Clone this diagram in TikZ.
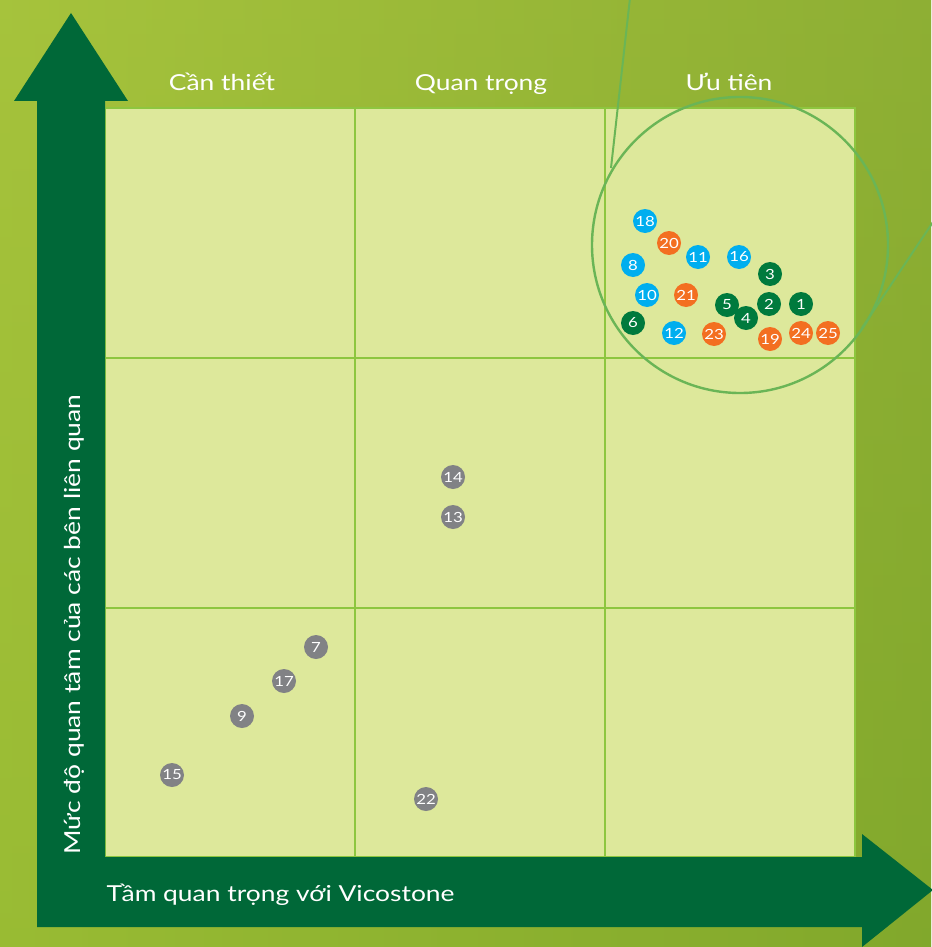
\documentclass[tikz,border=0pt]{standalone}
\usepackage{fontspec}
\setmainfont{Lato}[FakeStretch=1.2]
\usetikzlibrary{calc}
\definecolor{bgA}{HTML}{A6C33C}
\definecolor{bgB}{HTML}{769B2C}
\definecolor{bgC}{HTML}{8DB52C}
\definecolor{cellfill}{HTML}{DDE89B}
\definecolor{gridline}{HTML}{8DC63F}
\definecolor{arrowgreen}{HTML}{006838}
\definecolor{ringgreen}{HTML}{6AB556}
\definecolor{cblue}{HTML}{00AEEF}
\definecolor{corange}{HTML}{F36F21}
\definecolor{cdgreen}{HTML}{007A3D}
\definecolor{cgray}{HTML}{818285}
\tikzset{
  bub/.style={circle,minimum size=24pt,inner sep=0pt,text=white,font=\fontsize{14}{15}\selectfont},
  bblue/.style={bub,fill=cblue},
  borange/.style={bub,fill=corange},
  bdg/.style={bub,fill=cdgreen},
  bgray/.style={bub,fill=cgray},
  collabel/.style={text=white,anchor=base,font=\fontsize{22}{24}\selectfont},
  axislabel/.style={text=white,anchor=base west,font=\fontsize{22}{24}\selectfont},
  gridl/.style={draw=gridline,line width=1.5pt},
  ring/.style={draw=ringgreen,line width=2.4pt}
}
\begin{document}
\begin{tikzpicture}[x=1pt,y=-1pt]
\useasboundingbox (0,0) rectangle (931,947);
% background
\shade[left color=bgA,right color=bgB] (0,0) rectangle (931,947);
\shade[top color=bgA,bottom color=bgC,opacity=0.5] (0,0) rectangle (931,947);
% grid
\fill[cellfill] (105,108) rectangle (855,857);
\draw[gridl] (105,108) rectangle (855,857);
\draw[gridl] (355,108) -- (355,857);
\draw[gridl] (605,108) -- (605,857);
\draw[gridl] (105,358) -- (855,358);
\draw[gridl] (105,608) -- (855,608);
% arrows (L shape)
\fill[arrowgreen] (37,101) -- (37,927) -- (862,927) -- (862,947) -- (933,890) -- (862,834) -- (862,857) -- (105,857) -- (105,101) -- (128,101) -- (71,13) -- (14,101) -- cycle;
% column labels
\node[collabel] (c1) at (222,91) {Cần thiết};
\node[collabel] (c2) at (481,91) {Quan trọng};
\node[collabel] (c3) at (729,91) {Ưu tiên};
% axis labels
\node[axislabel] (xl) at (103,901) {Tầm quan trọng với Vicostone};
\node[axislabel,rotate=90] (yl) at (80,858) {Mức độ quan tâm của các bên liên quan};
% magnifier ring and lines
\node[circle,ring,minimum size=296pt,inner sep=0pt] (ring) at (740,245) {};
\coordinate (la) at (630,-2);
\coordinate (lb) at (611,168);
\coordinate (ra) at (933,222);
\coordinate (rb) at (862,328);
\draw[draw=ringgreen,line width=2pt] (la) -- (lb);
\draw[draw=ringgreen,line width=2pt] (ra) -- (rb);
% bubbles
\node[bblue] (n18) at (645,221) {18};
\node[borange] (n20) at (669,243) {20};
\node[bblue] (n11) at (698,257) {11};
\node[bblue] (n16) at (739,257) {16};
\node[bblue] (n8) at (633,265) {8};
\node[bdg] (n3) at (770,274) {3};
\node[bblue] (n10) at (647,295) {10};
\node[borange] (n21) at (686,295) {21};
\node[bdg] (n5) at (727,305) {5};
\node[bdg] (n2) at (769,304) {2};
\node[bdg] (n1) at (801,304) {1};
\node[bdg] (n4) at (746,318) {4};
\node[bdg] (n6) at (633,323) {6};
\node[bblue] (n12) at (674,333) {12};
\node[borange] (n23) at (714,334) {23};
\node[borange] (n19) at (770,339) {19};
\node[borange] (n24) at (801,333) {24};
\node[borange] (n25) at (828,333) {25};
\node[bgray] (n14) at (453,477) {14};
\node[bgray] (n13) at (453,517) {13};
\node[bgray] (n7) at (316,647) {7};
\node[bgray] (n17) at (284,681) {17};
\node[bgray] (n9) at (242,716) {9};
\node[bgray] (n15) at (172,775) {15};
\node[bgray] (n22) at (426,799) {22};
\end{tikzpicture}
\end{document}
